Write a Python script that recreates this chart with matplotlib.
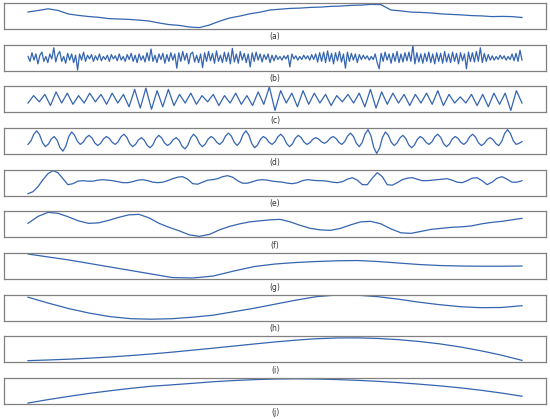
import matplotlib
matplotlib.use("Agg")
import matplotlib.pyplot as plt
import numpy as np

# panel labels
labels = ["(a)", "(b)", "(c)", "(d)", "(e)", "(f)", "(g)", "(h)", "(i)", "(j)"]

# (a) original signal
sig_a = [4.0, 5.5, 7.2, 5.5, 2.0, 0.6, -0.5, -1.3, -2.6, -3.0,
         -3.4, -4.1, -5.0, -7.0, -8.6, -9.4, -11.0, -11.6, -9.0, -5.2,
         -2.0, -0.1, 2.2, 3.8, 6.0, 6.8, 7.6, 7.9, 8.6, 8.9,
         9.6, 9.9, 10.6, 10.9, 11.6, 11.4, 6.0, 5.1, 3.9, 3.6,
         3.0, 2.1, 1.6, 1.1, 0.4, 0.1, -0.6, -0.4, -0.6, -1.5]

# (b) IMF 1
imf_b = [0.1, -0.3, 0.4, -0.2, 0.3, -0.5, 0.2, 0.45, -0.3, 0.1, -0.4, 0.3, -0.1, 0.8, -0.35, 0.25, 0.5, -0.3, 0.1, -0.45, 0.35, -0.2, 0.3, -0.4, 0.2,
         -1.0, 0.3, -0.2, 0.45, -0.3, 0.2, -0.1, 0.25, -0.3, 0.15, -0.2, 0.3, -0.25, 0.1, -0.15, 0.2, -0.3, 0.25, -0.1, 0.15, -0.25, 0.3, -0.2, 0.1, -0.3,
         0.25, -0.15, 0.35, -0.3, 0.2, -0.4, 0.3, -0.2, 0.15, -0.35, 0.4, -0.25, 0.7, -0.3, 0.2, -0.4, 0.3, -0.15, 0.35, -0.45, 0.25, -0.3, 0.4, -0.2, 0.3,
         -0.85, 0.4, -0.3, 0.5, -0.2, 0.35, -0.5, 0.3, 0.45, -0.35, 0.2, -0.4, 0.3, -0.8, 0.4, -0.3, 0.5, -0.25, 0.35, -0.45, 0.55, -0.3, 0.2, -0.4, 0.45,
         -0.3, 0.4, -0.5, 0.75, -0.35, 0.3, -0.45, 0.5, -0.2, 0.35, -0.4, 0.3, -0.75, 0.4, -0.3, 0.45, -0.2, 0.3, -0.35, 0.25, -0.15, 0.3, -0.4, 0.2, -0.25,
         0.2, -0.15, 0.1, -0.2, 0.15, -0.1, 0.2, -0.75, 0.3, -0.1, 0.15, -0.2, 0.1, -0.15, 0.2, -0.1, 0.15, -0.2, 0.25, -0.15, 0.3, -0.35, 0.4, -0.3, 0.45,
         -0.4, 0.55, -0.3, 0.35, -0.5, 0.4, -0.25, 0.5, -0.35, 0.3, -0.85, 0.45, -0.3, 0.35, -0.2, 0.3, -0.4, 0.25, -0.15, 0.2, -0.1, 0.15, -0.2, 0.1, -0.15,
         0.3, -0.4, -0.9, 0.35, -0.3, 0.45, -0.2, 0.3, -0.45, 0.35, -0.3, 0.5, -0.4, 0.3, -0.35, 0.4, -0.25, 0.45, -0.3, 1.0, -0.5, 0.4, -0.35, 0.3, -0.45,
         0.35, -0.3, 0.45, -0.4, 0.3, -0.5, 0.4, -0.3, 0.35, -0.45, 0.5, -0.35, 0.3, -0.4, 0.45, -0.3, 0.35, -0.5, 0.4, -0.25, 0.3, -0.9, 0.45, -0.3, 0.4,
         -0.35, 0.5, -0.3, 0.8, -0.4, 0.35, -0.3, 0.25, -0.2, 0.15, -0.2, 0.1, -0.15, 0.2, -0.1, 0.15, -0.2, 0.1, -0.15, 0.3, -0.25, 0.35, -0.3, 0.6, -0.2]

# (c) IMF 2
imf_c = [-0.3, 0.3, -0.2, 0.4, -0.5, 0.6, -0.3, 0.5, -0.4, 0.3,
         -0.3, 0.5, -0.2, 0.4, -0.4, 0.5, -0.3, 0.4, -0.6, 0.8,
         -0.7, 0.9, -0.8, 0.7, -0.6, 0.8, -0.5, 0.4, -0.3, 0.5,
         -0.4, 0.3, -0.2, 0.4, -0.5, 0.3, -0.3, 0.5, -0.4, 0.3,
         -0.5, 0.6, -0.4, 1.0, -0.9, 0.7, -0.3, 0.5, -0.6, 0.7,
         -0.4, 0.5, -0.3, 0.4, -0.5, 0.3, -0.2, 0.4, -0.3, 0.5,
         -0.6, 0.8, -0.7, 0.6, -0.4, 0.5, -0.3, 0.4, -0.5, 0.4,
         -0.3, 0.5, -0.4, 0.7, -0.5, 0.4, -0.3, 0.2, -0.3, 0.4,
         -0.5, 0.4, -0.6, 0.5, -0.4, 0.5, -0.9, 0.7, -0.3]

# (d) IMF 3
imf_d = [-0.3, 0.0, 0.6,
         0.9, 0.55, -0.15, -0.5, -0.275, 0.175,
         0.4, 0.075, -0.575, -0.9, -0.475, 0.375,
         0.8, 0.525, -0.025, -0.3, -0.1, 0.3,
         0.5, 0.275, -0.175, -0.4, -0.2, 0.2,
         0.4, 0.225, -0.125, -0.3, -0.075, 0.375,
         0.6, 0.325, -0.225, -0.5, -0.3, 0.1,
         0.3, 0.075, -0.375, -0.6, -0.325, 0.225,
         0.5, 0.275, -0.175, -0.4, -0.225, 0.125,
         0.3, 0.05, -0.45, -0.7, -0.375, 0.275,
         0.6, 0.325, -0.225, -0.5, -0.275, 0.175,
         0.4, 0.225, -0.125, -0.3, -0.05, 0.45,
         0.7, 0.425, -0.125, -0.4, -0.075, 0.575,
         0.9, 0.525, -0.225, -0.6, -0.35, 0.15,
         0.4, 0.225, -0.125, -0.3, -0.075, 0.375,
         0.6, 0.325, -0.225, -0.5, -0.25, 0.25,
         0.5, 0.3, -0.1, -0.3, -0.15, 0.15,
         0.3, 0.175, -0.075, -0.2, -0.05, 0.25,
         0.4, 0.225, -0.125, -0.3, -0.05, 0.45,
         0.7, 0.4, -0.2, -0.5, -0.125, 0.625,
         1.0, 0.475, -0.575, -1.1, -0.625, 0.325,
         0.8, 0.5, -0.1, -0.4, -0.175, 0.275,
         0.5, 0.225, -0.325, -0.6, -0.35, 0.15,
         0.4, 0.225, -0.125, -0.3, -0.075, 0.375,
         0.6, 0.325, -0.225, -0.5, -0.275, 0.175,
         0.4, 0.225, -0.125, -0.3, -0.075, 0.375,
         0.6, 0.35, -0.15, -0.4, -0.225, 0.125,
         0.3, 0.125, -0.225, -0.4, -0.05, 0.65,
         1.0, 0.675, 0.025, -0.3, -0.2, -0.05]

# (e) IMF 4
imf_e = [-11, -9, -4, 3, 9, 12, 10, 4, -2, -1,
         1.5, 2, 1.5, 1.5, 2.5, 3, 2.5, 2, 1, 0,
         0, 1, 2.5, 3, 2, 0.5, 0, 0.5, 2, 4,
         5.5, 6, 3.5, -1, -1.5, 0.5, 2.5, 3, 4, 6,
         7, 5.5, 2, -0.5, -0.5, 1, 2.5, 3, 2.5, 1.5,
         1, 0.5, -0.5, -1, 0, 2, 3, 2.5, 2, 2,
         1.5, 0.5, 0, 1, 3.5, 5, 2.5, -2, -2, 4.5,
         10, 6, -2, -2.5, 0, 3, 4.5, 5, 3.5, 2,
         2, 2.5, 3, 3.5, 4, 2.5, 0.5, 0, 2, 4.5,
         5, 2, -2, 0.5, 4.5, 6, 3.5, 0.5, 0.5, 2]

# (f) IMF 5
imf_f = [1, 8, 12, 11, 7.5, 3.5, 1, 1.5, 4, 7,
         9.5, 10, 6.5, 1, -3, -6.5, -10.5, -12, -10, -5.5,
         -2, 0.5, 2.5, 3.5, 4.5, 5, 2.5, -1, -4, -5.5,
         -6, -4, -0.5, 2.5, 3, 0.5, -4.5, -8.5, -9, -7,
         -5, -4, -3, -2.5, -1.5, 0.5, 2, 3, 4.5, 6]

# (g) IMF 6
imf_g = [12, 9, 6, 2.5, -1, -4.5, -8, -11.5, -12, -10,
         -5, -0.5, 2, 3.5, 4.5, 5.2, 5.5, 4.5, 3, 1.5,
         0.5, 0, -0.2, -0.2, 0]

# (h) IMF 7
imf_h = [10.5, 4.5, -1, -5.5, -9, -11, -11.5, -11, -9.5, -7.5,
         -4, -0.5, 3.5, 7.5, 11, 12.7, 12.5, 11, 8.5, 5.5,
         3, 1, 0, 0.2, 2]

# (i) IMF 8
imf_i = [-11.3, -10.6, -9.8, -8.8, -7.6, -6.2, -4.6, -2.8, -0.8, 1.2,
         3.3, 5.4, 7.4, 9.2, 10.6, 11.4, 11.5, 10.9, 9.7, 7.9,
         5.5, 2.4, -1.4, -5.8, -11]

# (j) residue
res_j = [-12, -8.5, -5.3, -2.3, 0.3, 2.7, 4.8, 6.2, 7.7, 9.3,
         10.5, 11.4, 12, 12.2, 12, 11.5, 10.7, 9.7, 8.4, 6.9,
         5.2, 3.2, 0.8, -2, -5.2]

series = [sig_a, imf_b, imf_c, imf_d, imf_e, imf_f, imf_g, imf_h, imf_i, res_j]
half_range = [13, 1.05, 1.05, 1.15, 13, 13, 13, 13, 13, 13]

W, H = 550, 419
fig = plt.figure(figsize=(W / 100, H / 100), dpi=100)

line_color = "#3565b0"
top0, step, box_h = 3, 41.67, 26
left, right = 4, 546
pad = 24  # horizontal gap between frame and data ends

for k, (vals, lab, hr) in enumerate(zip(series, labels, half_range)):
    top = top0 + step * k
    ax = fig.add_axes([left / W, 1 - (top + box_h) / H, (right - left) / W, box_h / H])
    y = np.asarray(vals, dtype=float)
    x = np.arange(len(y))
    ax.plot(x, y, color=line_color, lw=0.9)
    n = len(y) - 1
    m = n * pad / (right - left - 2 * pad)
    ax.set_xlim(-m, n + m)
    ax.set_ylim(-hr, hr)
    ax.set_xticks([])
    ax.set_yticks([])
    for s in ax.spines.values():
        s.set_color("#808080")
        s.set_linewidth(0.9)
    fig.text(0.5, 1 - (top + box_h + 8) / H, lab, ha="center", va="center",
             fontsize=5.5, color="#333333")

fig.savefig("out.png", dpi=100)
